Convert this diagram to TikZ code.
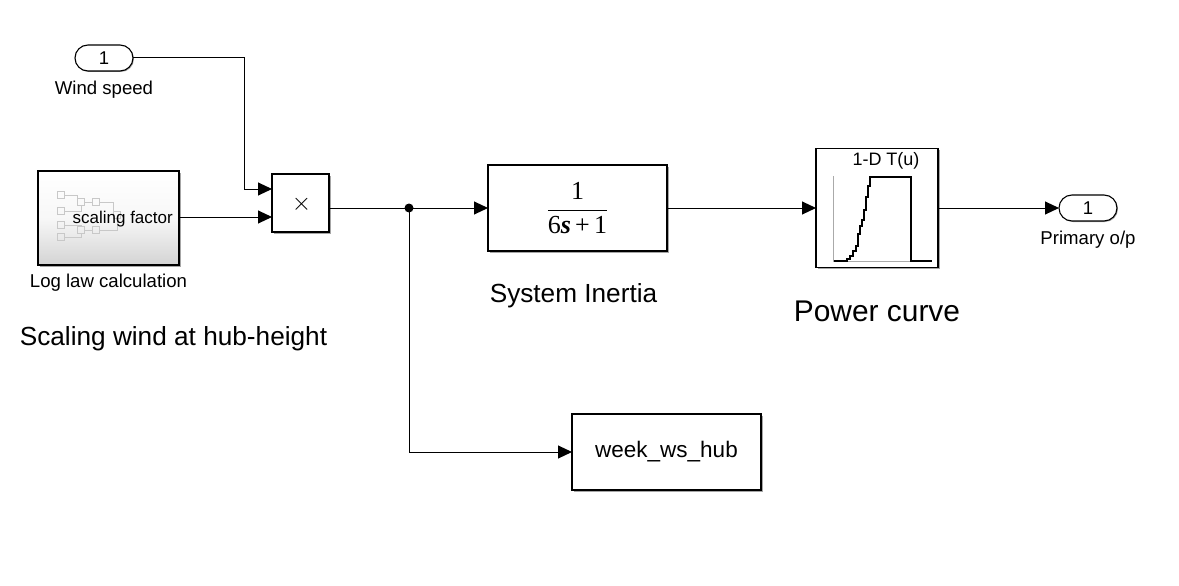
\documentclass[tikz,border=0pt]{standalone}
\usepackage{amsmath}
\usepackage{fontspec}
\setmainfont{Liberation Sans}
\newfontfamily\fracfont{Liberation Serif}
\usetikzlibrary{
  arrows.meta,
  calc,
  positioning,
  shadows,
  shapes.misc,
}
\definecolor{iconborder}{RGB}{200, 200, 200}
\definecolor{axisgray}{RGB}{170, 170, 170}
\tikzset{
  >={Triangle[length=14pt,width=13pt]},
  wire/.style={line width=1pt},
  blockbox/.style={draw,rectangle,line width=1.1pt,fill=white,inner sep=0pt,outer sep=0pt,
    drop shadow={shadow xshift=1.5pt,shadow yshift=-1.5pt,fill=black!50,opacity=0.7}},
  portbox/.style={draw,rounded rectangle,line width=1.1pt,fill=white,minimum width=58,minimum height=26,
    inner sep=0pt,outer sep=0pt,font=\fontsize{18.5}{20}\selectfont,
    drop shadow={shadow xshift=1pt,shadow yshift=-1pt,fill=black!50,opacity=0.7}},
  smalltext/.style={inner sep=0pt,font=\fontsize{18.6}{22}\selectfont},
  bigtext/.style={inner sep=0pt,font=\fontsize{26.2}{30}\selectfont},
  iconsq/.style={draw=iconborder,line width=0.6pt,fill=none,minimum size=7,inner sep=0pt},
}
\begin{document}
\begin{tikzpicture}[x=1pt,y=-1pt]
        \useasboundingbox (0,0) rectangle (1179,586);

        \node[portbox]    (wind)  at (104,58)     {1};
        \node[smalltext]  (windlabel) [below=10pt of wind]   {Wind speed};

        \node[blockbox,minimum width=141,minimum height=94,top color=white,bottom color=black!17,middle color=black!3]  (log)  at (108.5,218)  {};
        \node[smalltext]  (loglabel)  [below=9pt of log]    {Log law calculation};
        \node[bigtext]    (scaling)   at (173.5,339)        {Scaling wind at hub-height};

        % subsystem thumbnail
        \foreach \n/\px/\py in {a/61/195,b/61/211,c/61/225,d/61/237,e/81/202,f/96/202,g/81/230,h/96/230,i/117/215}{
            \node[iconsq] (icon\n) at (\px,\py) {};
        }
        \draw[iconborder,line width=0.6pt] (icona.east) -| (icone.west) (icone) -- (iconf) (iconf.east) -| (iconi.west);
        \draw[iconborder,line width=0.6pt] (iconb.east) -| (icone.south) (iconc.east) -| (icong.north) (icond.east) -| (icong.south);
        \draw[iconborder,line width=0.6pt] (icong) -- (iconh) (iconh.east) -| (iconi.south);
        \node[font=\fontsize{17}{20}\selectfont,inner sep=0pt,anchor=east] (loginner) at (173,219) {scaling factor};

        \node[blockbox,minimum width=57,minimum height=58]    (prod)  at (300.5,203)  {};
        \node[font=\fontsize{28}{30}\selectfont,inner sep=0pt] (prodsign) at (301.5,204) {$\times$};
        \coordinate (prodin1) at (prod.west |- 0,189);
        \coordinate (prodin2) at (prod.west |- 0,217);
        \coordinate (prodout) at (prod.east |- 0,208);

        \node[blockbox,minimum width=179,minimum height=86]   (inertia)  at (577.5,208)
            {\fontsize{26}{30}\selectfont$\genfrac{}{}{1.2pt}{0}{\hbox{\fracfont 1}}{\hbox{\fracfont 6\textbf{\textit{s}}\,+\,1}}$};
        \node[bigtext]    (inertialabel) at (573.5,296)  {System Inertia};

        \node[blockbox,minimum width=122,minimum height=119]  (power)  [right=149pt of inertia]  {};
        \node[inner sep=0pt,font=\fontsize{18}{20}\selectfont] (powertitle) at (886,161) {1-D T(u)};
        \node[inner sep=0pt,font=\fontsize{29.9}{34}\selectfont] (powerlabel) [below=33pt of power]  {Power curve};

        % table curve
        \draw[axisgray,line width=1pt] (833.5,176) -- (833.5,261) -- (932,261);
        \draw[line width=1.6pt] (833.5,261) -- (847,261) -- (847,259) -- (850,259) -- (850,256) -- (853,256) -- (853,251)
            -- (856,251) -- (856,246) -- (858,246) -- (858,234) -- (860,234) -- (860,226) -- (862,226) -- (862,220)
            -- (864,220) -- (864,210) -- (866,210) -- (866,197) -- (868,197) -- (868,186) -- (870,186) -- (870,177)
            -- (911,177) -- (911,261) -- (932,261);

        \node[portbox]    (primary)  [right=121pt of power]  {1};
        \node[smalltext]  (primarylabel) [below=10pt of primary]  {Primary o/p};

        \node[blockbox,minimum width=189,minimum height=76,font=\fontsize{22.5}{26}\selectfont]  (week)  at (666.5,452)  {\raisebox{-1pt}{week\_ws\_hub}};

        \coordinate (junction) at (409,208);

        \draw[wire,->] (wind.east) -| (244,189) -- (prodin1);
        \draw[wire,->] (log.east |- prodin2) -- (prodin2);
        \draw[wire,->] (prodout) -- (inertia.west);
        \draw[wire,->] (inertia.east) -- (power.west);
        \draw[wire,->] (power.east) -- (primary.west);
        \draw[wire,->] (junction) |- (week.west);
        \fill (junction) circle (4.5pt);

    \end{tikzpicture}
\end{document}
